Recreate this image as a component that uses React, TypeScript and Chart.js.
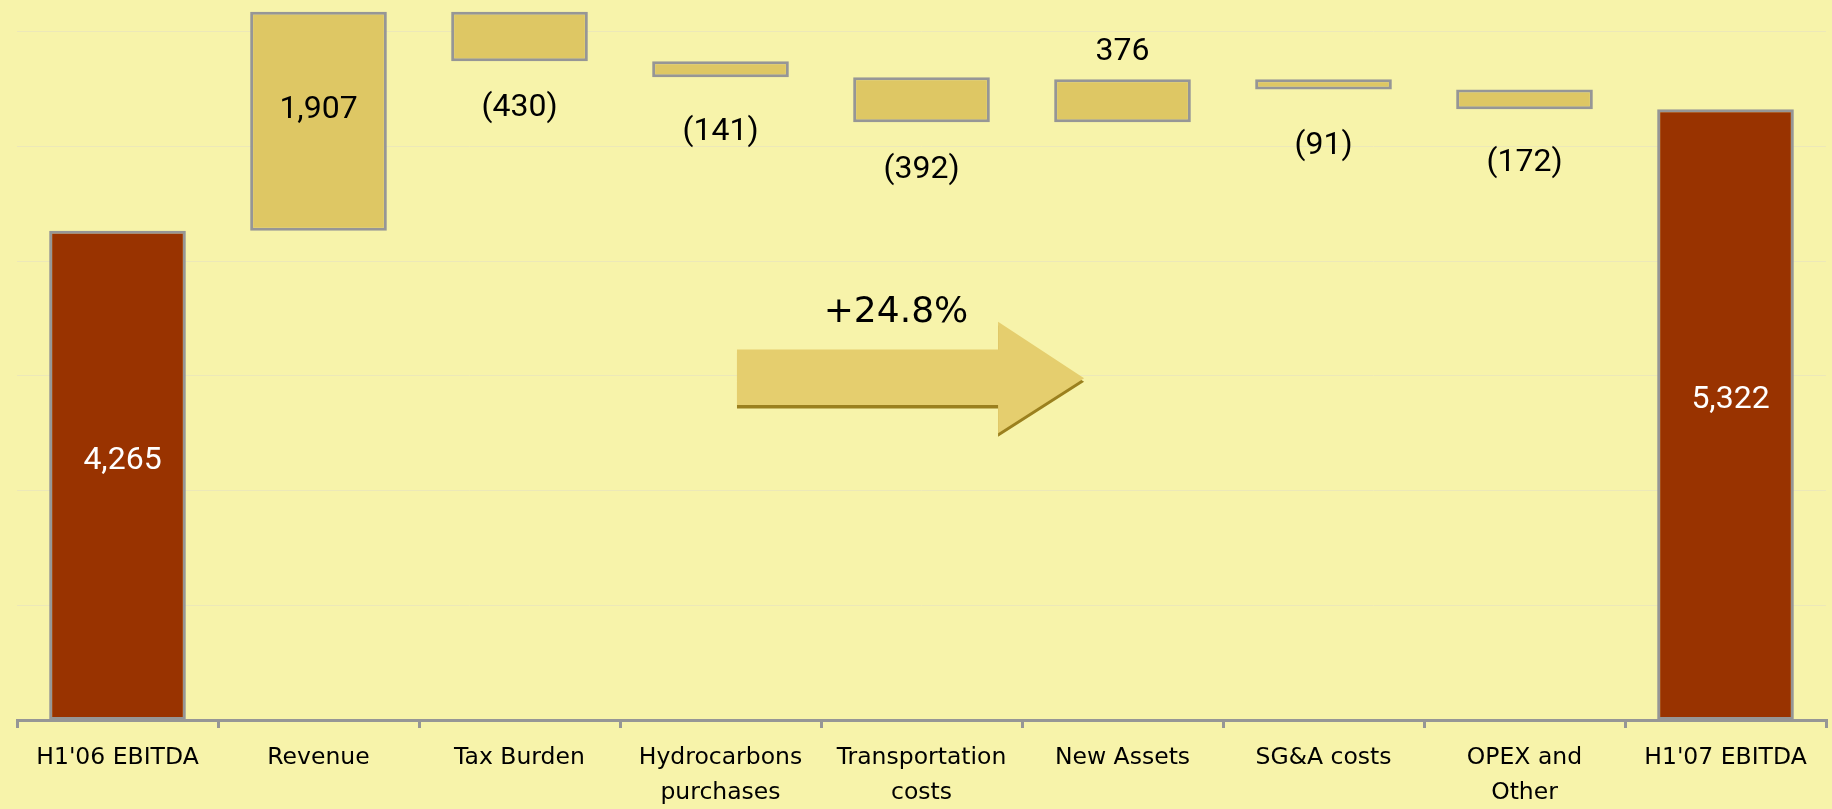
import React, { useEffect, useRef } from "react";
import { Chart, registerables } from "chart.js";

Chart.register(...registerables);

// ---------------- data ----------------
const categories: (string | string[])[] = [
  "H1'06 EBITDA",
  "Revenue",
  "Tax Burden",
  ["Hydrocarbons", "purchases"],
  ["Transportation", "costs"],
  "New Assets",
  "SG&A costs",
  ["OPEX and", "Other"],
  "H1'07 EBITDA",
];
const values = [4265, 1907, -430, -141, -392, 376, -91, -172, 5322];
const isTotal = [true, false, false, false, false, false, false, false, true];
const yGridValues = [1000, 2000, 3000, 4000, 5000, 6000];
const growthLabel = "+24.8%";

// ---------------- styles ----------------
const BG = "#F7F3AA";
const GOLD = "#DEC764";
const RED = "#993300";
const BORDER = "#969696";
const GRID = "#ECE8B8";
const ARROW_FILL = "#E5CE6E";
const ARROW_SHADOW = "#9B801E";

// arrow annotation geometry (x in category index units, y in value units)
const ARROW = {
  xStart: 3.082,
  xHead: 4.381,
  xTip: 4.809,
  bodyTop: 3230,
  bodyBottom: 2745,
  headTop: 3471,
  tipY: 2978,
  headBottom: 2499,
  textX: 3.873,
  textY: 3582,
};

function buildRanges(): [number, number][] {
  let run = 0;
  return values.map((v, i) => {
    if (isTotal[i]) {
      run = v;
      return [0, v];
    }
    const start = run;
    run += v;
    return [start, run];
  });
}

function fmt(v: number): string {
  const s = Math.abs(v).toLocaleString("en-US");
  return v < 0 ? `(${s})` : s;
}

const labelsPlugin = {
  id: "waterfallLabels",
  afterDatasetsDraw(chart: any) {
    const meta = chart.getDatasetMeta(0);
    const ctx = chart.ctx;
    ctx.save();
    const size = 32;
    ctx.font = `${size}px Roboto`;
    ctx.textAlign = "center";
    ctx.textBaseline = "alphabetic";
    const half = (size * 0.711) / 2;
    meta.data.forEach((el: any, i: number) => {
      const { x, y, base } = el.getProps(["x", "y", "base"], true);
      const top = Math.min(y, base);
      const bottom = Math.max(y, base);
      const h = bottom - top;
      const center = (top + bottom) / 2;
      const v = values[i];
      let cx = x;
      let cy: number;
      let color = "#000";
      if (isTotal[i]) {
        cy = center - 18;
        cx = x + 5;
        color = "#fff";
      } else if (h > 100) {
        cy = center - 15;
      } else if (v >= 0) {
        cy = top - 31;
      } else {
        cy = bottom - h / 4 + 55.5;
      }
      ctx.fillStyle = color;
      ctx.fillText(fmt(v), cx, cy + half);
    });
    ctx.restore();
  },
};

const arrowPlugin = {
  id: "growthArrow",
  afterDatasetsDraw(chart: any) {
    const xs = chart.scales.x;
    const ys = chart.scales.y;
    const X = (v: number) => xs.getPixelForValue(v);
    const Y = (v: number) => ys.getPixelForValue(v);
    const ctx = chart.ctx;
    const pts: [number, number][] = [
      [X(ARROW.xStart), Y(ARROW.bodyTop)],
      [X(ARROW.xHead), Y(ARROW.bodyTop)],
      [X(ARROW.xHead), Y(ARROW.headTop)],
      [X(ARROW.xTip), Y(ARROW.tipY)],
      [X(ARROW.xHead), Y(ARROW.headBottom)],
      [X(ARROW.xHead), Y(ARROW.bodyBottom)],
      [X(ARROW.xStart), Y(ARROW.bodyBottom)],
    ];
    const path = (dy: number) => {
      ctx.beginPath();
      pts.forEach(([px, py], k) => {
        if (k === 0) ctx.moveTo(px, py + dy);
        else ctx.lineTo(px, py + dy);
      });
      ctx.closePath();
    };
    ctx.save();
    path(3.5);
    ctx.fillStyle = ARROW_SHADOW;
    ctx.fill();
    path(0);
    ctx.fillStyle = ARROW_FILL;
    ctx.fill();

    const fs = 36;
    ctx.font = `${fs}px "DejaVu Sans"`;
    ctx.fillStyle = "#000";
    ctx.textAlign = "center";
    ctx.textBaseline = "alphabetic";
    ctx.fillText(growthLabel, X(ARROW.textX), Y(ARROW.textY) + (fs * 0.729) / 2);
    ctx.restore();
  },
};

export default function App() {
  const ref = useRef<HTMLCanvasElement>(null);

  useEffect(() => {
    document.body.style.margin = "0";
    document.body.style.background = BG;
    const canvas = ref.current!;
    const chart = new Chart(canvas, {
      type: "bar",
      data: {
        labels: categories as any,
        datasets: [
          {
            data: buildRanges() as any,
            backgroundColor: isTotal.map((t) => (t ? RED : GOLD)),
            borderColor: BORDER,
            borderWidth: 3,
            borderSkipped: false,
            barPercentage: 0.68,
            categoryPercentage: 1,
          },
        ],
      },
      options: {
        responsive: false,
        animation: false,
        devicePixelRatio: 1,
        events: [],
        layout: { padding: { left: 17, right: 6, top: 0, bottom: 0 } },
        plugins: {
          legend: { display: false },
          tooltip: { enabled: false },
        },
        scales: {
          x: {
            offset: true,
            grid: {
              offset: true,
              drawOnChartArea: false,
              drawTicks: true,
              tickLength: 8,
              tickWidth: 3,
              tickColor: BORDER,
              color: BORDER,
              lineWidth: 3,
            },
            border: { display: true, color: BORDER, width: 3 },
            ticks: {
              color: "#000",
              font: { family: "DejaVu Sans", size: 23.5, lineHeight: 1.5 },
              padding: 12,
              autoSkip: false,
              maxRotation: 0,
              minRotation: 0,
            },
            afterFit: (s: any) => {
              s.height = 89;
            },
          },
          y: {
            min: 0,
            max: 6275,
            ticks: { display: false },
            afterBuildTicks: (s: any) => {
              s.ticks = yGridValues.map((v) => ({ value: v }));
            },
            grid: { drawTicks: false, color: GRID, lineWidth: 1 },
            border: { display: false },
            afterFit: (s: any) => {
              s.width = 0;
            },
          },
        },
      },
      plugins: [labelsPlugin, arrowPlugin],
    } as any);
    return () => chart.destroy();
  }, []);

  return (
    <div
      style={{
        position: "absolute",
        left: 0,
        top: 0,
        width: 1832,
        height: 809,
        background: BG,
      }}
    >
      <canvas ref={ref} width={1832} height={809} style={{ display: "block" }} />
    </div>
  );
}
